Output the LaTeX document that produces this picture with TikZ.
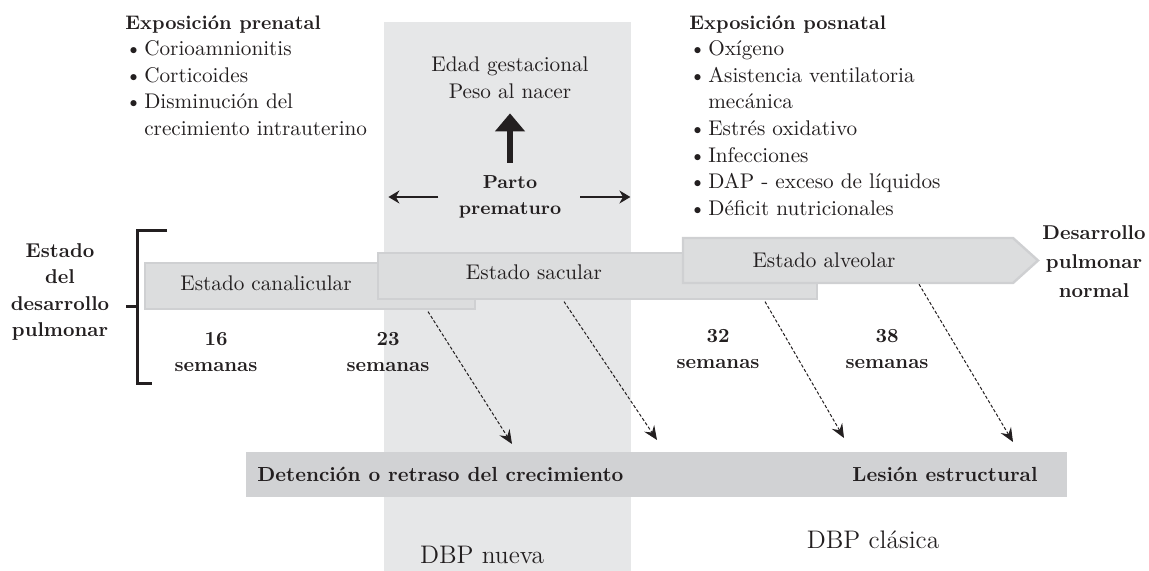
\documentclass[tikz,border=0pt]{standalone}
\usepackage{fontspec}
\usetikzlibrary{arrows.meta}
\definecolor{bandgray}{RGB}{230,231,232}
\definecolor{barfill}{RGB}{220,221,222}
\definecolor{barline}{RGB}{207,208,210}
\definecolor{basegray}{RGB}{209,210,212}
\definecolor{ink}{RGB}{35,31,32}
\newcommand{\itm}{\textbullet\hspace{1.2pt}}

\begin{document}
\begin{tikzpicture}[x=0.5pt,y=-0.5pt,
  txt/.style={font=\fontsize{10.6}{13.3}\selectfont, inner sep=0pt, text=ink},
  bld/.style={font=\fontsize{9.8}{13.3}\selectfont\bfseries, inner sep=0pt, text=ink, align=center},
  bar/.style={fill=barfill, draw=barline, line width=1.2pt, anchor=north west, inner sep=0pt, minimum height=23pt},
  dasharrow/.style={ink, line width=0.5pt, dash pattern=on 1.6pt off 1pt, -{Stealth[length=7pt,width=6pt,inset=2.5pt]}},
  thinarrow/.style={ink, line width=0.8pt, -{Stealth[length=5.5pt,width=6.5pt]}},
  bigarrow/.style={ink, line width=3pt, -{Triangle[length=9pt,width=14.5pt]}}]
\useasboundingbox (0,0) rectangle (1149,571);
\fill[bandgray] (384,22) rectangle (631,571);

% exposiciones
\node[txt, align=left, anchor=north west] (prenatal) at (125,15)
  {{\fontsize{9.8}{13.3}\selectfont\bfseries Exposición prenatal}\\
   \itm Corioamnionitis\\
   \itm Corticoides\\
   \itm Disminución del\\
   \phantom{\itm}crecimiento intrauterino};
\node[txt, align=left, anchor=north west] (posnatal) at (689,15)
  {{\fontsize{9.8}{13.3}\selectfont\bfseries Exposición posnatal}\\
   \itm Oxígeno\\
   \itm Asistencia ventilatoria\\
   \phantom{\itm}mecánica\\
   \itm Estrés oxidativo\\
   \itm Infecciones\\
   \itm DAP - exceso de líquidos\\
   \itm Déficit nutricionales};

% parto prematuro
\node[txt, align=center, font=\fontsize{10.6}{13.5}\selectfont] (edad) at (510,78) {Edad gestacional\\Peso al nacer};
\node[bld, font=\fontsize{9.4}{13}\selectfont\bfseries] (parto) at (510,197) {Parto\\prematuro};
\draw[bigarrow, shorten <=6.3pt, shorten >=7pt] (parto) -- (edad);
\draw[thinarrow] ([xshift=-10pt]parto.west) -- ++(-50,0);
\draw[thinarrow] ([xshift=9.4pt]parto.east) -- ++(50,0);

% estados
\node[bar, minimum width=165pt] (canal) at (144,262) {};
\node[bar, minimum width=219.5pt] (sacu) at (377,252) {};
\draw[fill=barfill, draw=barline, line width=1.2pt] (683,238) -- (1013,238) -- (1038,260.5) -- (1013,283) -- (683,283) -- cycle;
\coordinate (alve) at (683,283);
\node[txt] (canaltxt) at (266,283) {Estado canalicular};
\node[txt] (sacutxt) at (534,272) {Estado sacular};
\node[txt] (alvetxt) at (824,260) {Estado alveolar};

\node[bld, font=\fontsize{10}{13.2}\selectfont\bfseries] (estado) at (60,292) {Estado\\del\\desarrollo\\pulmonar};
\node[bld, font=\fontsize{10}{14.5}\selectfont\bfseries] (normal) at (1094,262) {Desarrollo\\pulmonar\\normal};
\draw[ink, line width=1.5pt] (167,231) -- (137,231) -- (137,383) -- (152,383);
\draw[ink, line width=1.5pt] (126,307) -- (137,307);

\node[bld, font=\fontsize{10}{13.4}\selectfont\bfseries] (s16) at (216,352) {16\\semanas};
\node[bld, font=\fontsize{10}{13.4}\selectfont\bfseries] (s23) at (388,352) {23\\semanas};
\node[bld, font=\fontsize{10}{13.4}\selectfont\bfseries] (s32) at (718,349) {32\\semanas};
\node[bld, font=\fontsize{10}{13.4}\selectfont\bfseries] (s38) at (887,349) {38\\semanas};

% lesion
\node[fill=basegray, anchor=north west, inner sep=0pt, minimum width=410.5pt, minimum height=22.5pt] (base) at (246,452) {};
\node[bld, font=\fontsize{10.2}{13}\selectfont\bfseries, anchor=west] (detencion) at (257,474) {Detención o retraso del crecimiento};
\node[bld, font=\fontsize{10.2}{13}\selectfont\bfseries, anchor=east] (lesion) at (1038,474) {Lesión estructural};
\coordinate (e1) at (512,444);
\coordinate (e2) at (657,440);
\coordinate (e3) at (844,438);
\coordinate (e4) at (1013,442);
\draw[dasharrow] ([xshift=142pt,yshift=-0.6pt]canal.south west) -- (e1);
\draw[dasharrow] ([xshift=93.5pt,yshift=-0.6pt]sacu.south west) -- (e2);
\draw[dasharrow] ([xshift=194pt,yshift=-0.6pt]sacu.south west) -- (e3);
\draw[dasharrow] ([xshift=118pt,yshift=-0.6pt]alve) -- (e4);

\node[txt, font=\fontsize{12.7}{15}\selectfont] (nueva) at (482,555) {DBP nueva};
\node[txt, font=\fontsize{12.7}{15}\selectfont] (clasica) at (873,540) {DBP clásica};
\end{tikzpicture}
\end{document}
